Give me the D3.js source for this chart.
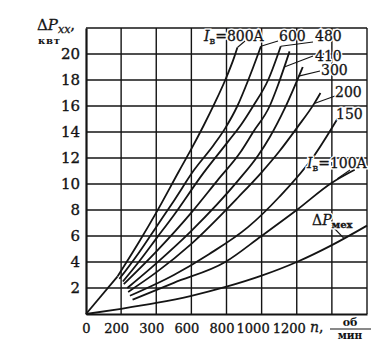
<!DOCTYPE html>
<html>
<head>
<meta charset="utf-8">
<script src="https://cdn.jsdelivr.net/npm/d3@7"></script>
<style>
  html, body { margin: 0; padding: 0; background: #fff; }
  svg { display: block; }
  text { font-family: "DejaVu Serif", "Liberation Serif", serif; fill: #141414; }
</style>
</head>
<body>
<div id="chart"></div>
<script>
// Speed axis (об/мин) tick labels as printed, and power axis ticks (кВт)
const xTickValues = [0, 200, 400, 600, 800, 1000, 1200];
const xTickLabels = ["0", "200", "300", "600", "800", "1000", "1200"];
const yTickValues = [2, 4, 6, 8, 10, 12, 14, 16, 18, 20];

// No-load losses ΔPxx (кВт) versus speed n (об/мин) for field currents Iв
const curve800 = [[180, 2.9], [300, 5.5], [400, 7.8], [530, 11.0], [600, 12.7], [670, 14.5], [732, 16.2], [793, 18.0], [845, 19.8], [862, 20.5]];
const curve600 = [[190, 2.7], [300, 4.7], [400, 6.7], [500, 8.7], [614, 11.05], [727, 13.0], [793, 14.3], [862, 16.0], [924, 18.0], [980, 20.0], [996, 20.6]];
const curve480 = [[210, 2.5], [300, 4.0], [400, 5.8], [500, 7.6], [666, 10.8], [811, 13.3], [885, 14.6], [952, 16.0], [1037, 18.0], [1109, 20.6]];
const curve410 = [[215, 2.3], [400, 4.8], [600, 7.8], [750, 10.3], [877, 12.4], [952, 14.0], [1046, 16.0], [1093, 17.6], [1159, 20.2]];
const curve300 = [[235, 2.0], [400, 3.9], [600, 6.4], [868, 10.3], [980, 12.2], [1046, 13.6], [1131, 15.8], [1234, 19.0]];
const curve200 = [[240, 1.7], [400, 3.2], [600, 5.4], [868, 9.0], [1000, 10.9], [1100, 12.5], [1200, 14.3], [1300, 16.2], [1335, 17.0]];
const curve150 = [[250, 1.4], [500, 3.0], [700, 4.6], [924, 6.7], [1100, 9.0], [1300, 12.2], [1431, 15.0]];
const curve100 = [[265, 1.1], [500, 2.4], [793, 4.0], [999, 6.0], [1200, 8.0], [1400, 10.1], [1530, 11.1]];
const curveMech = [[0, 0], [200, 0.4], [400, 0.85], [600, 1.4], [800, 2.1], [1000, 2.95], [1200, 4.0], [1400, 5.3], [1600, 6.8]];
const originLine = [[0, 0], [180, 2.9]];

const W = 376, H = 343;
const svg = d3.select("#chart").append("svg").attr("width", W).attr("height", H);

const x = d3.scaleLinear().domain([0, 1600]).range([86, 367]);
const y = d3.scaleLinear().domain([0, 22]).range([314, 28]);

const ink = "#141414";

// grid
const grid = svg.append("g");
grid.selectAll("line.v").data(d3.range(200, 1601, 200)).join("line")
  .attr("x1", d => x(d)).attr("x2", d => x(d))
  .attr("y1", y(0)).attr("y2", y(22))
  .attr("stroke", ink).attr("stroke-width", 1.4);
grid.selectAll("line.h").data(d3.range(2, 23, 2)).join("line")
  .attr("x1", x(0)).attr("x2", x(1600))
  .attr("y1", d => y(d)).attr("y2", d => y(d))
  .attr("stroke", ink).attr("stroke-width", 1.4);

// axes
const xNudge = { "0": 0, "1000": -9, "1200": -8 };
const xAxis = d3.axisBottom(x).tickValues(xTickValues)
  .tickFormat((d, i) => xTickLabels[i]).tickSize(0).tickPadding(10);
const gx = svg.append("g").attr("transform", `translate(0,${y(0)})`).call(xAxis);
gx.select(".domain").attr("stroke", ink).attr("stroke-width", 2.2);
gx.selectAll("text").attr("font-size", 13).attr("fill", ink)
  .attr("stroke", ink).attr("stroke-width", 0.35)
  .attr("dx", function () { const t = d3.select(this).text(); return t in xNudge ? xNudge[t] : -5; });

const yAxis = d3.axisLeft(y).tickValues(yTickValues).tickSize(0).tickPadding(6);
const gy = svg.append("g").attr("transform", `translate(${x(0)},0)`).call(yAxis);
gy.select(".domain").attr("stroke", ink).attr("stroke-width", 2.2);
gy.selectAll("text").attr("font-size", 15).attr("fill", ink)
  .attr("stroke", ink).attr("stroke-width", 0.35);

// curves
const line = d3.line().x(d => x(d[0])).y(d => y(d[1])).curve(d3.curveMonotoneX);
const curves = [curve800, curve600, curve480, curve410, curve300, curve200, curve150, curve100, curveMech, originLine];
svg.append("g").selectAll("path").data(curves).join("path")
  .attr("d", line).attr("fill", "none")
  .attr("stroke", ink).attr("stroke-width", 1.8);

// leader lines: label end in pixels, curve end on the curve (data units)
const leaders = [
  [[245, 41], [862, 20.5]],
  [[278, 41], [996, 20.6]],
  [[313, 42], [1109, 20.6]],
  [[313, 56], [1129, 19.0]],
  [[320, 71], [1211, 18.3]],
  [[335, 96], [1300, 16.2]],
  [[350, 170], [1431, 10.4]],
  [[334, 228], [1470, 5.8]]
];
svg.append("g").selectAll("line").data(leaders).join("line")
  .attr("x1", d => d[0][0]).attr("y1", d => d[0][1])
  .attr("x2", d => x(d[1][0])).attr("y2", d => y(d[1][1]))
  .attr("stroke", ink).attr("stroke-width", 1.1);

// curve labels, each drawn over a white halo so grid lines break around text
function label(px, py, parts, size) {
  const g = svg.append("g");
  [true, false].forEach(halo => {
    const t = g.append("text").attr("x", px).attr("y", py).attr("font-size", size || 14);
    if (halo) t.attr("stroke", "#fff").attr("stroke-width", 3).attr("fill", "#fff");
    else t.attr("stroke", ink).attr("stroke-width", 0.3);
    parts.forEach(p => {
      const s = t.append("tspan").text(p.t);
      if (p.it) s.attr("font-style", "italic");
      if (p.fs) s.attr("font-size", p.fs);
      if (p.dy) s.attr("dy", p.dy);
      if (p.bold) s.attr("font-weight", "bold");
    });
  });
}
label(204, 41, [{ t: "I", it: true }, { t: "в", fs: 10, dy: 3 }, { t: "=800A", dy: -3 }]);
label(279, 41, [{ t: "600" }]);
label(315, 41, [{ t: "480" }]);
label(315, 61, [{ t: "410" }]);
label(321, 75, [{ t: "300" }]);
label(335, 97, [{ t: "200" }]);
label(336, 119, [{ t: "150" }]);
label(307, 168, [{ t: "I", it: true }, { t: "в", fs: 10, dy: 3 }, { t: "=100A", dy: -3 }]);
label(312, 225, [{ t: "Δ" }, { t: "P", it: true }, { t: "мех", fs: 10, dy: 3, bold: true }]);

// axis titles
const yt = svg.append("text").attr("x", 37).attr("y", 30).attr("font-size", 15)
  .attr("stroke", ink).attr("stroke-width", 0.3);
yt.append("tspan").text("Δ");
yt.append("tspan").attr("font-style", "italic").text("P");
yt.append("tspan").attr("font-size", 11).attr("dy", 3).attr("font-style", "italic").text("xx");
yt.append("tspan").attr("dy", -3).text(",");
svg.append("text").attr("x", 38).attr("y", 44).attr("font-size", 10)
  .attr("font-weight", "bold").attr("letter-spacing", 0.8).text("квт");

const xt = svg.append("text").attr("x", 310).attr("y", 332).attr("font-size", 14)
  .attr("stroke", ink).attr("stroke-width", 0.3);
xt.append("tspan").attr("font-style", "italic").text("n");
xt.append("tspan").text(",");
svg.append("text").attr("x", 350).attr("y", 326).attr("text-anchor", "middle")
  .attr("font-size", 11).attr("font-weight", "bold").text("об");
svg.append("line").attr("x1", 330).attr("x2", 371).attr("y1", 329).attr("y2", 329)
  .attr("stroke", ink).attr("stroke-width", 1.1);
svg.append("text").attr("x", 350).attr("y", 339).attr("text-anchor", "middle")
  .attr("font-size", 10.5).attr("font-weight", "bold").text("мин");
</script>
</body>
</html>
